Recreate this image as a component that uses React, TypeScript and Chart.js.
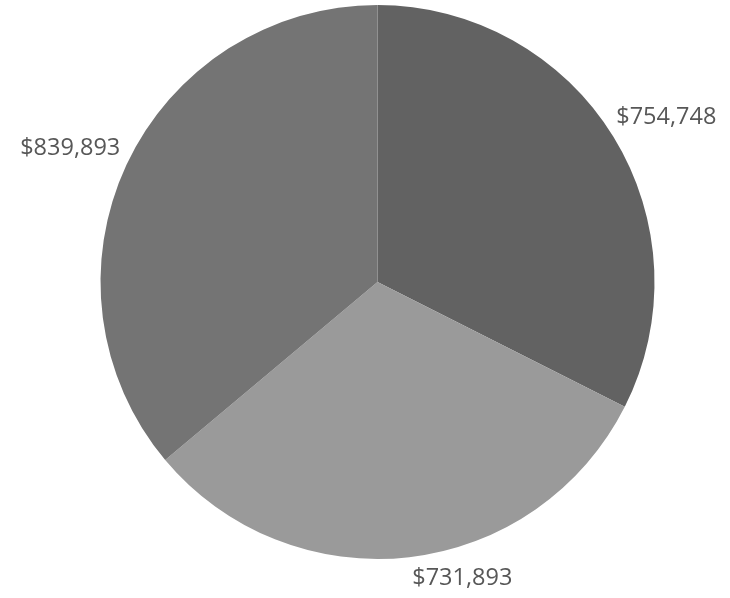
import React, { useEffect, useRef } from "react";
import { Chart, registerables } from "chart.js";

Chart.register(...registerables);

const categories = ["A", "B", "C"];
const values = [754748, 731893, 839893];
const labelTexts = ["$754,748", "$731,893", "$839,893"];
const sliceColors = ["#626262", "#9a9a9a", "#747474"];
const labelAngleNudge = [-3, -10, 2.5];

const labelPlugin = {
  id: "outerLabels",
  afterDraw(chart: any) {
    const ctx = chart.ctx;
    const meta = chart.getDatasetMeta(0);
    ctx.save();
    ctx.font = "23.5px 'Open Sans'";
    ctx.fillStyle = "#575757";
    meta.data.forEach((arc: any, i: number) => {
      const { x, y, startAngle, endAngle, outerRadius } = arc.getProps(
        ["x", "y", "startAngle", "endAngle", "outerRadius"],
        true
      );
      const mid = (startAngle + endAngle) / 2 + (labelAngleNudge[i] * Math.PI) / 180;
      const dx = Math.cos(mid);
      const centered = Math.abs(dx) < 0.35;
      const r = outerRadius + (centered ? 20 : 13);
      const px = x + Math.cos(mid) * r;
      const py = y + Math.sin(mid) * r;
      if (centered) {
        ctx.textAlign = "center";
        ctx.textBaseline = Math.sin(mid) > 0 ? "top" : "bottom";
      } else {
        ctx.textAlign = dx > 0 ? "left" : "right";
        ctx.textBaseline = "middle";
      }
      ctx.fillText(labelTexts[i], px, py);
    });
    ctx.restore();
  },
};

export default function App() {
  const ref = useRef<HTMLCanvasElement>(null);
  useEffect(() => {
    document.body.style.margin = "0";
    const chart = new Chart(ref.current!, {
      type: "pie",
      data: {
        labels: categories,
        datasets: [
          {
            data: values,
            backgroundColor: sliceColors,
            borderWidth: 0,
          },
        ],
      },
      options: {
        animation: false,
        responsive: false,
        layout: { padding: { left: 100, right: 75, top: 5, bottom: 39 } },
        plugins: { legend: { display: false }, tooltip: { enabled: false } },
      },
      plugins: [labelPlugin],
    });
    return () => chart.destroy();
  }, []);
  return (
    <div style={{ width: 730, height: 598, background: "#fff" }}>
      <canvas ref={ref} width={730} height={598} style={{ display: "block" }} />
    </div>
  );
}
